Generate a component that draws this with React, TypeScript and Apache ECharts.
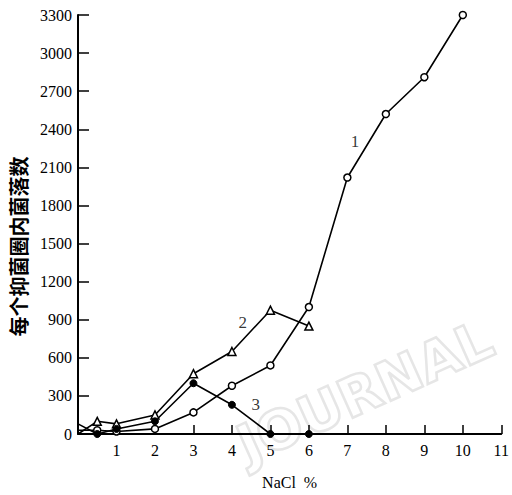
import React, { useEffect, useRef } from "react";
import * as echarts from "echarts";

const yTicks = [0, 300, 600, 900, 1200, 1500, 1800, 2100, 2400, 2700, 3000, 3300];
const series1 = [
  [0, 30], [0.5, 30], [1, 20], [2, 40], [3, 170], [4, 380], [5, 540],
  [6, 1000], [7, 2020], [8, 2520], [9, 2810], [10, 3300],
];
const series2 = [
  [0, 0], [0.5, 100], [1, 80], [2, 150], [3, 475], [4, 650], [5, 975], [6, 850],
];
const series3 = [
  [0, 80], [0.5, 0], [1, 40], [2, 100], [3, 400], [4, 230], [5, 0], [6, 0],
];
const curveLabels = [
  [7.2, 2300, "1"],
  [4.28, 880, "2"],
  [4.62, 234, "3"],
];
const xName = "NaCl  %";
const yName = "每个抑菌圈内菌落数";

export default function App() {
  const ref = useRef<HTMLDivElement>(null);
  useEffect(() => {
    const chart = echarts.init(ref.current!, null, { renderer: "svg" });
    const serif = "Liberation Serif, DejaVu Serif, serif";
    const lineBase = {
      type: "line",
      lineStyle: { color: "#000", width: 1.6 },
      itemStyle: { color: "#fff", borderColor: "#000", borderWidth: 1.5 },
      symbolSize: 7,
      z: 3,
    };
    const noStartSymbol = (arr: number[][]) =>
      arr.map((p) => (p[0] === 0 ? { value: p, symbol: "none" } : p));
    chart.setOption({
      animation: false,
      backgroundColor: "#fff",
      grid: { left: 78, right: 10, top: 15, bottom: 57, containLabel: false },
      xAxis: {
        type: "value",
        min: 0,
        max: 11,
        interval: 1,
        name: xName,
        nameLocation: "middle",
        nameGap: 40,
        nameTextStyle: { fontFamily: serif, fontSize: 16, color: "#000" },
        axisLine: { lineStyle: { color: "#000", width: 1.8 } },
        axisTick: { inside: true, length: 9, lineStyle: { color: "#000", width: 1.5 } },
        axisLabel: {
          fontFamily: serif,
          fontSize: 16,
          color: "#000",
          margin: 8,
          formatter: (v: number) => (v === 0 ? "" : String(v)),
        },
        splitLine: { show: false },
      },
      yAxis: {
        type: "value",
        min: 0,
        max: 3300,
        interval: 300,
        name: yName,
        nameLocation: "middle",
        nameGap: 50,
        nameRotate: 90,
        nameTextStyle: {
          fontFamily: "Noto Sans CJK SC",
          fontWeight: "bold",
          fontSize: 20,
          color: "#000",
          padding: [0, 44, 0, 0],
        },
        axisLine: { show: true, lineStyle: { color: "#000", width: 2 } },
        axisTick: { show: true, inside: true, length: 11, lineStyle: { color: "#000", width: 1.5 } },
        axisLabel: {
          fontFamily: serif,
          fontSize: 16,
          color: "#000",
          margin: 6,
          formatter: (v: number) => (yTicks.includes(v) ? String(v) : ""),
        },
        splitLine: { show: false },
      },
      graphic: [
        {
          type: "text",
          x: 365,
          y: 392,
          rotation: 0.42,
          z: 0,
          style: {
            text: "JOURNAL",
            fontSize: 54,
            fontWeight: "bold",
            fontFamily: "DejaVu Sans",
            fill: "rgba(255,255,255,0)",
            stroke: "#e6e6e6",
            lineWidth: 2.5,
            align: "center",
            verticalAlign: "middle",
          },
          silent: true,
        },
      ],
      series: [
        { ...lineBase, name: "1", data: noStartSymbol(series1), symbol: "circle" },
        { ...lineBase, name: "2", data: noStartSymbol(series2), symbol: "triangle", symbolSize: 8 },
        {
          ...lineBase,
          name: "3",
          data: noStartSymbol(series3),
          symbol: "circle",
          itemStyle: { color: "#000", borderColor: "#000", borderWidth: 1 },
        },
        {
          type: "scatter",
          data: curveLabels,
          symbolSize: 0,
          z: 4,
          label: {
            show: true,
            position: "inside",
            formatter: (p: any) => p.data[2],
            fontFamily: serif,
            fontSize: 17,
            color: "#000",
          },
        },
      ],
    });
    return () => chart.dispose();
  }, []);
  return (
    <div
      ref={ref}
      style={{ position: "fixed", left: 0, top: 0, width: 512, height: 495 }}
    />
  );
}
